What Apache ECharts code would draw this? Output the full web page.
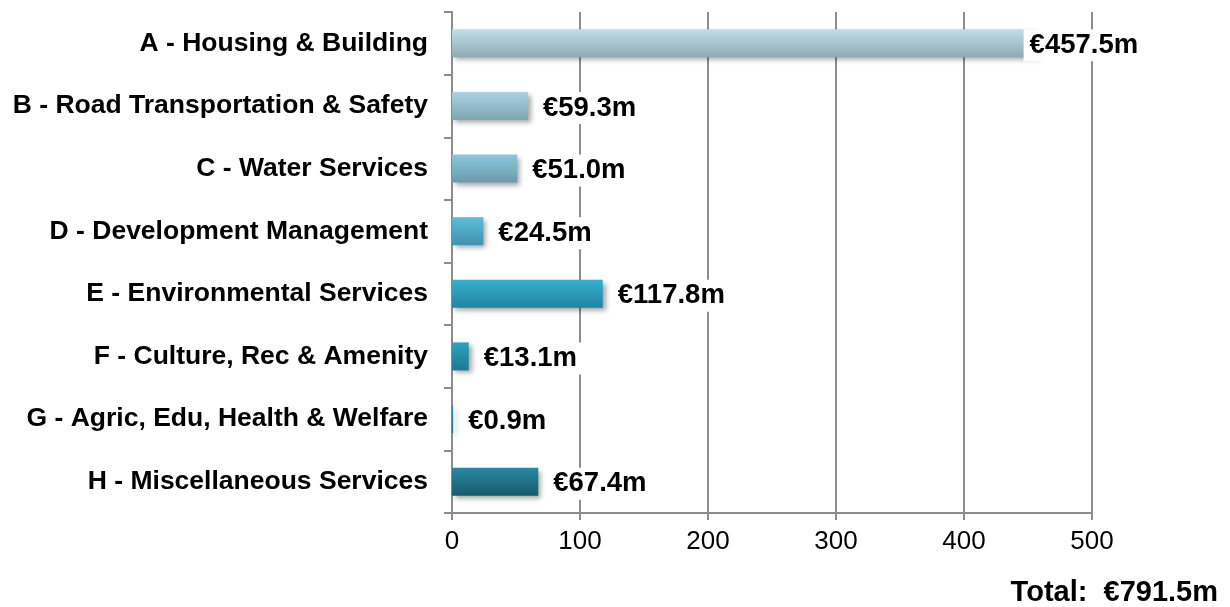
<!DOCTYPE html>
<html><head><meta charset="utf-8">
<script src="https://cdn.jsdelivr.net/npm/echarts@6/dist/echarts.min.js"></script>
<style>html,body{margin:0;padding:0;background:#fff}#c{width:1230px;height:607px}</style>
</head><body><div id="c"></div>
<script>
const categories = ["A - Housing & Building","B - Road Transportation & Safety","C - Water Services","D - Development Management","E - Environmental Services","F - Culture, Rec & Amenity","G - Agric, Edu, Health & Welfare","H - Miscellaneous Services"];
const values = [457.5, 59.3, 51.0, 24.5, 117.8, 13.1, 0.9, 67.4];
const valueLabels = ["€457.5m","€59.3m","€51.0m","€24.5m","€117.8m","€13.1m","€0.9m","€67.4m"];
const axisTicks = [0,100,200,300,400,500];
const totalText = "Total:  €791.5m";
const topColors = ["#c0dde8","#a9d3e2","#8dc8dc","#5bbedc","#35b0d0","#2ca3c1","#2596b2","#268aa3"];
const bottomColors = ["#8eaab5","#7fa5b3","#6a9aab","#4292aa","#23849e","#1d7890","#1a6f85","#175a6e"];

const chart = echarts.init(document.getElementById('c'));
const font = '"Liberation Sans", Arial, sans-serif';
const data = values.map((v,i)=>({
  value: v,
  itemStyle: { color: new echarts.graphic.LinearGradient(0,0,0,1,[{offset:0,color:topColors[i]},{offset:1,color:bottomColors[i]}]) },
  label: i===0 ? {offset:[-23,2]} : {offset:[0,2]}
}));
chart.setOption({
  animation:false,
  textStyle:{fontFamily:font},
  grid:{left:452,right:138,top:12,bottom:94,containLabel:false},
  graphic:[{type:'text',x:1218,y:593,style:{text:totalText,font:'bold 29px '+font,fill:'#000',textAlign:'right',textVerticalAlign:'middle'}}],
  xAxis:{type:'value',min:axisTicks[0],max:axisTicks[axisTicks.length-1],interval:100,
    axisLine:{show:true,lineStyle:{color:'#8c8c8c',width:2}},
    axisTick:{show:true,length:7,lineStyle:{color:'#8c8c8c',width:2}},
    axisLabel:{fontSize:26,color:'#000',margin:16,fontFamily:font},
    splitLine:{show:true,lineStyle:{color:'#8c8c8c',width:2}}},
  yAxis:{type:'category',data:categories,inverse:true,
    axisLine:{show:true,lineStyle:{color:'#8c8c8c',width:2}},
    axisTick:{show:true,length:8,lineStyle:{color:'#8c8c8c',width:2}},
    axisLabel:{fontSize:26.5,fontWeight:'bold',color:'#000',margin:24,fontFamily:font,lineHeight:30,padding:[4,0,0,0]}},
  series:[{type:'bar',data:data,barWidth:28,
    itemStyle:{shadowColor:'rgba(0,0,0,0.35)',shadowBlur:5,shadowOffsetX:3,shadowOffsetY:3},
    label:{show:true,position:'right',distance:9,formatter:p=>valueLabels[p.dataIndex],
      fontSize:27.5,fontWeight:'bold',color:'#000',backgroundColor:'#fff',padding:[2,6],fontFamily:font}}]
});
</script></body></html>
